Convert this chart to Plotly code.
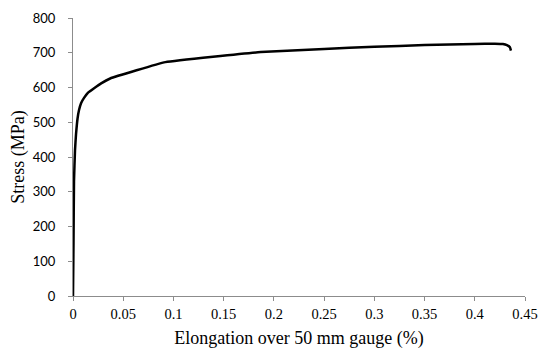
import plotly.graph_objects as go

elongation = [0, 0.0005, 0.001, 0.002, 0.003, 0.0045, 0.006, 0.008, 0.011, 0.015,
              0.021, 0.028, 0.037, 0.092, 0.187, 0.25, 0.3, 0.35, 0.4, 0.42,
              0.428, 0.432, 0.435, 0.436]
stress = [0, 150, 330, 420, 465, 510, 535, 555, 570, 585,
          598, 612, 626, 673, 702, 711, 717, 722, 725.5, 726,
          725, 722, 716, 706]

x_ticks = [0, 0.05, 0.1, 0.15, 0.2, 0.25, 0.3, 0.35, 0.4, 0.45]
x_tick_labels = ["0", "0.05", "0.1", "0.15", "0.2", "0.25", "0.3", "0.35", "0.4", "0.45"]
y_ticks = [0, 100, 200, 300, 400, 500, 600, 700, 800]

fig = go.Figure()
fig.add_trace(go.Scatter(x=elongation, y=stress, mode="lines",
                         line=dict(color="black", width=2.5, shape="spline", smoothing=0.3),
                         showlegend=False))

# page body adds an 8px offset; size the figure so the plot area lands where the reference has it
fig.update_layout(
    width=542, height=346,
    margin=dict(l=65, r=25, t=10, b=58),
    plot_bgcolor="white", paper_bgcolor="white",
)
fig.update_xaxes(range=[0, 0.45], tickvals=x_ticks, ticktext=x_tick_labels,
                 showgrid=False, zeroline=False, showline=True, linecolor="#8c8c8c", linewidth=1,
                 ticks="outside", ticklen=4, tickcolor="#8c8c8c", automargin=False,
                 ticklabelstandoff=1,
                 tickfont=dict(family="Liberation Serif", size=14.5, color="black"),
                 title=dict(text="Elongation over 50 mm gauge (%)",
                            font=dict(family="Liberation Serif", size=18, color="black"), standoff=9))
fig.update_yaxes(range=[0, 800], tickvals=y_ticks,
                 showgrid=False, zeroline=False, showline=True, linecolor="#8c8c8c", linewidth=1,
                 ticks="outside", ticklen=4, tickcolor="#8c8c8c", automargin=False,
                 ticklabelstandoff=10,
                 tickfont=dict(family="Lato", size=13, color="black"),
                 title=dict(text="Stress (MPa)",
                            font=dict(family="Liberation Serif", size=18, color="black"), standoff=8))

fig.write_html("out.html")
